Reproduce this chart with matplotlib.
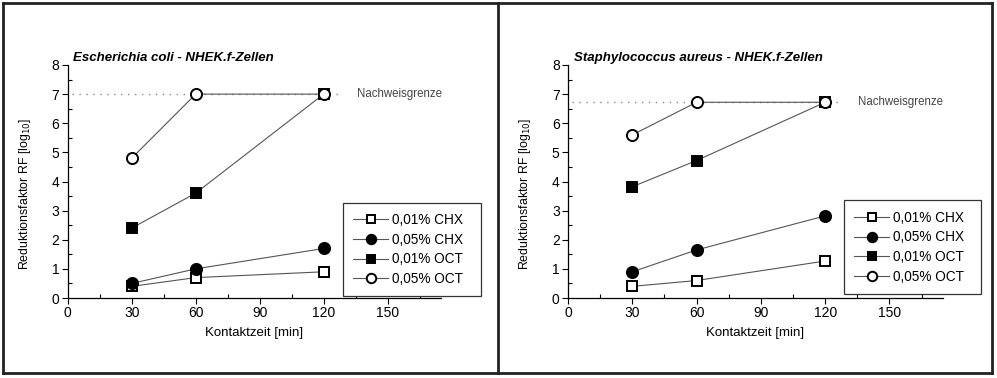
import matplotlib
matplotlib.use("Agg")
import matplotlib.pyplot as plt
from matplotlib.lines import Line2D
from matplotlib.ticker import MultipleLocator

plt.rcParams['font.family'] = ['Liberation Sans', 'DejaVu Sans']

times = [30, 60, 120]
labels = ["0,01% CHX", "0,05% CHX", "0,01% OCT", "0,05% OCT"]
markers = ["s", "o", "s", "o"]
faces = ["white", "black", "black", "white"]

ecoli_chx001 = [0.4, 0.7, 0.9]
ecoli_chx005 = [0.5, 1.0, 1.7]
ecoli_oct001 = [2.4, 3.6, 7.0]
ecoli_oct005 = [4.8, 7.0, 7.0]
ecoli_limit = 7.0

saur_chx001 = [0.4, 0.6, 1.27]
saur_chx005 = [0.9, 1.65, 2.82]
saur_oct001 = [3.82, 4.72, 6.72]
saur_oct005 = [5.6, 6.72, 6.72]
saur_limit = 6.72

titles = ["Escherichia coli - NHEK.f-Zellen", "Staphylococcus aureus - NHEK.f-Zellen"]

W, H = 997, 378
fig = plt.figure(figsize=(W / 100, H / 100), dpi=100)

panels = [
    (titles[0], [ecoli_chx001, ecoli_chx005, ecoli_oct001, ecoli_oct005], ecoli_limit,
     [67.7, 65, 441, 298], [342.7, 202.7, 480.7, 292.7]),
    (titles[1], [saur_chx001, saur_chx005, saur_oct001, saur_oct005], saur_limit,
     [568, 65, 943, 298], [843.7, 200.5, 981, 292]),
]

for title, series, limit, box, lbox in panels:
    x0, y0, x1, y1 = box
    ax = fig.add_axes([x0 / W, 1 - y1 / H, (x1 - x0) / W, (y1 - y0) / H])
    handles = []
    for vals, lab, mk, fc in zip(series, labels, markers, faces):
        h, = ax.plot(times, vals, color="#555555", lw=0.8, marker=mk,
                     markersize=7.5 if mk == "s" else 8, markerfacecolor=fc,
                     markeredgecolor="black", markeredgewidth=1.4, label=lab,
                     clip_on=False, zorder=3)
        handles.append(h)
    ax.plot([2, 128], [limit, limit], color="#888888", lw=1.0,
            linestyle=(0, (1, 4)), zorder=1, clip_on=False)
    ax.text(135.5, limit, "Nachweisgrenze", fontsize=8.3, color="#444444",
            va="center", ha="left")
    ax.set_xlim(0, 175)
    ax.set_ylim(0, 8)
    ax.xaxis.set_major_locator(MultipleLocator(30))
    ax.xaxis.set_minor_locator(MultipleLocator(15))
    ax.yaxis.set_major_locator(MultipleLocator(1))
    ax.yaxis.set_minor_locator(MultipleLocator(0.5))
    ax.set_xticks([0, 30, 60, 90, 120, 150])
    ax.tick_params(which="major", direction="out", length=4, width=0.8, labelsize=10, pad=2)
    ax.tick_params(which="minor", direction="in", length=3, width=0.8)
    for s in ["top", "right"]:
        ax.spines[s].set_visible(False)
    for s in ["left", "bottom"]:
        ax.spines[s].set_linewidth(0.9)
    ax.set_xlabel("Kontaktzeit [min]", fontsize=9.5, labelpad=5)
    ax.set_ylabel("Reduktionsfaktor RF [log$_{10}$]", fontsize=8.9)
    ax.yaxis.set_label_coords(-0.094, 0.445)
    ax.text(0.015, 1.005, title, transform=ax.transAxes, fontsize=9.5,
            fontstyle="italic", fontweight="bold", ha="left", va="bottom")
    lx0, ly0, lx1, ly1 = lbox
    leg = fig.legend(handles, labels, loc="upper left",
                     bbox_to_anchor=(lx0 / W, 1 - ly1 / H, (lx1 - lx0) / W, (ly1 - ly0) / H),
                     mode="expand", fontsize=9.8, frameon=True, fancybox=False,
                     edgecolor="#333333", framealpha=1, handlelength=2.6,
                     handletextpad=0.3, labelspacing=0.42, borderpad=0.75,
                     borderaxespad=0, markerscale=0.85)
    leg.get_frame().set_linewidth(0.9)

frame_kw = dict(color="#222222", lw=2, transform=fig.transFigure)
fig.add_artist(Line2D([3 / W, 992 / W], [1 - 3 / H, 1 - 3 / H], **frame_kw))
fig.add_artist(Line2D([3 / W, 992 / W], [1 - 373 / H, 1 - 373 / H], **frame_kw))
fig.add_artist(Line2D([3 / W, 3 / W], [1 - 3 / H, 1 - 373 / H], **frame_kw))
fig.add_artist(Line2D([992 / W, 992 / W], [1 - 3 / H, 1 - 373 / H], **frame_kw))
fig.add_artist(Line2D([497.5 / W, 497.5 / W], [1 - 3 / H, 1 - 373 / H], **frame_kw))

fig.savefig("out.png", dpi=100)
